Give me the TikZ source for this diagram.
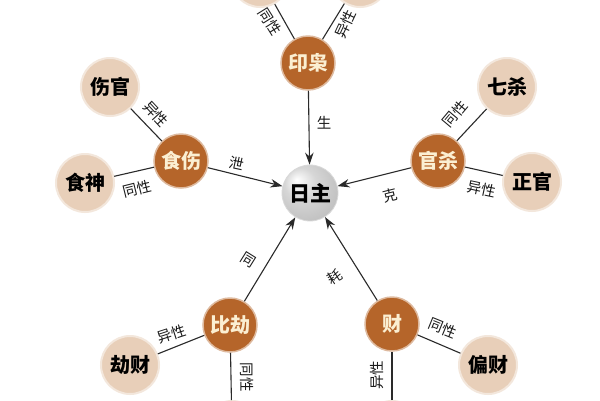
\documentclass[tikz,border=0pt]{standalone}
\usepackage{fontspec}
\newfontfamily\cjk{Noto Sans CJK SC}
\usetikzlibrary{arrows.meta}
\definecolor{brownc}{HTML}{B5652A}
\definecolor{beigec}{HTML}{E8CFB9}
\definecolor{creamc}{HTML}{FBEFD2}
\definecolor{linec}{HTML}{2A2A2A}
\pgfdeclareradialshading{spherec}{\pgfpoint{-12bp}{12bp}}{%
  color(0bp)=(white); color(14bp)=(gray!32); color(34bp)=(gray!52); color(50bp)=(gray!68)}
\begin{document}
\begin{tikzpicture}[x=1pt,y=-1pt,
  main/.style={circle, fill=brownc, draw=brownc!45!white, line width=1.5pt, minimum size=54pt, inner sep=0pt,
    font=\cjk\bfseries\fontsize{20}{20}\selectfont, text=creamc},
  leaf/.style={circle, fill=beigec, draw=beigec!50!white, line width=2pt, minimum size=58pt, inner sep=0pt,
    font=\cjk\bfseries\fontsize{20}{20}\selectfont, text=black},
  hub/.style={circle, shading=spherec, draw=gray!30, line width=0.8pt, minimum size=56pt, inner sep=0pt,
    font=\cjk\bfseries\fontsize{21}{21}\selectfont, text=black},
  lbl/.style={font=\cjk\fontsize{14.5}{14.5}\selectfont, text=black!90, inner sep=0pt},
  link/.style={draw=linec, line width=1.1pt},
  arr/.style={link, -{Stealth[length=12pt,width=8.5pt]}}]
\useasboundingbox (0,0) rectangle (600,400);
\fill[white] (0,0) rectangle (600,400);
\clip (0,0) rectangle (600,400);

% nodes
\node[hub]  (rz) at (310,193) {日主};
\node[main] (yx) at (308,63)  {印枭};
\node[main] (ss) at (181,161) {食伤};
\node[main] (gs) at (438,161) {官杀};
\node[main] (bj) at (230,325) {比劫};
\node[main] (cai) at (392,324) {财};
\node[leaf] (sg) at (110,87)  {伤官};
\node[leaf] (sn) at (85,183)  {食神};
\node[leaf] (qs) at (507,87)  {七杀};
\node[leaf] (zg) at (532,182) {正官};
\node[leaf] (jc) at (130,365) {劫财};
\node[leaf] (pc) at (488,365) {偏财};
\node[leaf] (tl) at (260,-22) {};
\node[leaf] (tr) at (360,-22) {};
\node[leaf] (bl) at (232,430) {};
\node[leaf] (br) at (392,430) {};

% connectors
\draw[arr] (yx) -- (rz);
\draw[arr] (ss) -- (rz);
\draw[arr] (gs) -- (rz);
\draw[arr] (bj) -- (rz);
\draw[arr] (cai) -- (rz);
\draw[link] (tl) -- (yx);
\draw[link] (tr) -- (yx);
\draw[link] (sg) -- (ss);
\draw[link] (sn) -- (ss);
\draw[link] (qs) -- (gs);
\draw[link] (zg) -- (gs);
\draw[link] (jc) -- (bj);
\draw[link] (bl) -- (bj);
\draw[link] (pc) -- (cai);
\draw[link] (br) -- (cai);

% labels
\node[lbl, rotate=-58] (l1) at (270,22) {同性};
\node[lbl, rotate=65]  (l2) at (346,24) {异性};
\node[lbl]             (l3) at (324,123) {生};
\node[lbl, rotate=-47] (l4) at (156,114) {异性};
\node[lbl, rotate=14]  (l5) at (137,189) {同性};
\node[lbl, rotate=-12] (l6) at (237,163) {泄};
\node[lbl, rotate=50]  (l7) at (455,114) {同性};
\node[lbl, rotate=-12] (l8) at (482,189) {异性};
\node[lbl, rotate=14]  (l9) at (390,195) {克};
\node[lbl, rotate=-32] (l10) at (248,260) {同};
\node[lbl, rotate=18]  (l11) at (172,334) {异性};
\node[lbl, rotate=-90] (l12) at (247,377) {同性};
\node[lbl, rotate=32]  (l13) at (335,277) {耗};
\node[lbl, rotate=-22] (l14) at (443,328) {同性};
\node[lbl, rotate=90]  (l15) at (377,375) {异性};
\end{tikzpicture}
\end{document}
